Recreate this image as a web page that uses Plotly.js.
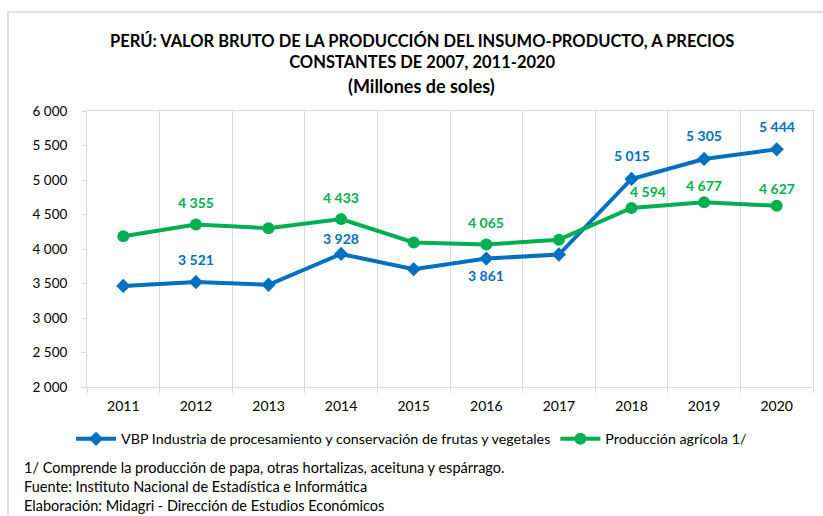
<!DOCTYPE html>
<html>
<head>
<meta charset="utf-8">
<script src="https://cdn.plot.ly/plotly-3.0.1.min.js"></script>
<style>html,body{margin:0;padding:0;background:#fff;}#chart{width:823px;height:516px;}</style>
</head>
<body>
<div id="chart"></div>
<script>
const years = ['2011','2012','2013','2014','2015','2016','2017','2018','2019','2020'];
const vbpIndustria = [3465, 3521, 3482, 3928, 3708, 3861, 3920, 5015, 5305, 5444];
const produccionAgricola = [4185, 4355, 4302, 4433, 4095, 4065, 4135, 4594, 4677, 4627];
const vbpLabeled = [false, true, false, true, false, true, false, true, true, true];
const agrLabeled = [false, true, false, true, false, true, false, true, true, true];
const yTicks = [2000, 2500, 3000, 3500, 4000, 4500, 5000, 5500, 6000];
const seriesNames = ['VBP Industria de procesamiento y conservación de frutas y vegetales', 'Producción agrícola 1/'];
const notes = ['1/ Comprende la producción de papa, otras hortalizas, aceituna y espárrago.',
  'Fuente: Instituto Nacional de Estadística e Informática',
  'Elaboración: Midagri - Dirección de Estudios Económicos'];

const BLUE = '#0070C0', GREEN = '#00B050';
const FONT = 'Lato, "Open Sans", sans-serif';
function fmt(v){ return String(v).replace(/\B(?=(\d{3})+(?!\d))/g, ' '); }

const traces = [
  {x: years, y: vbpIndustria, name: seriesNames[0], type: 'scatter', mode: 'lines+markers',
   line: {color: BLUE, width: 4}, marker: {symbol: 'diamond', size: 11, color: BLUE}},
  {x: years, y: produccionAgricola, name: seriesNames[1], type: 'scatter', mode: 'lines+markers',
   line: {color: GREEN, width: 4}, marker: {symbol: 'circle', size: 12, color: GREEN}}
];

// label offsets (pixels)
const blueShift = {'2014': [0, 15], '2016': [0, -17]};
const greenShift = {'2018': [16, 17], '2019': [0, 17], '2020': [0, 17]};
const annotations = [];
years.forEach((yr, i) => {
  if (vbpLabeled[i]) {
    const s = blueShift[yr] || [0, 23];
    annotations.push({x: i, y: vbpIndustria[i], xref: 'x', yref: 'y', text: fmt(vbpIndustria[i]),
      showarrow: false, xshift: s[0], yshift: s[1], font: {family: FONT, size: 14, color: BLUE, weight: 'bold'}});
  }
  if (agrLabeled[i]) {
    const s = greenShift[yr] || [0, 22];
    annotations.push({x: i, y: produccionAgricola[i], xref: 'x', yref: 'y', text: fmt(produccionAgricola[i]),
      showarrow: false, xshift: s[0], yshift: s[1], font: {family: FONT, size: 14, color: GREEN, weight: 'bold'}});
  }
});
const noteY = [-0.293, -0.362, -0.428];
notes.forEach((t, i) => annotations.push({x: -0.0895, y: noteY[i], xref: 'paper', yref: 'paper',
  xanchor: 'left', yanchor: 'middle', showarrow: false, text: t, font: {family: FONT, size: 14.5, color: '#000'}}));
annotations.push({x: 0.461, y: 1.0 + (111 - 86) / 276, xref: 'paper', yref: 'paper', xanchor: 'center', yanchor: 'middle',
  showarrow: false, text: '<b>(Millones de soles)</b>', font: {family: FONT, size: 18, color: '#000'}});

const layout = {
  width: 823, height: 516,
  margin: {l: 87, r: 10, t: 111, b: 129},
  paper_bgcolor: '#fff', plot_bgcolor: '#fff',
  separators: ', ',
  font: {family: FONT, size: 13, color: '#000'},
  title: {text: '<b>PERÚ: VALOR BRUTO DE LA PRODUCCIÓN DEL INSUMO-PRODUCTO, A PRECIOS<br>CONSTANTES DE 2007, 2011-2020</b>',
    font: {family: FONT, size: 16.5, color: '#000'}, x: 0.513, xanchor: 'center', y: 1 - 47 / 516, yanchor: 'middle', yref: 'container'},
  xaxis: {type: 'category', tickson: 'boundaries', showgrid: true, gridcolor: '#d9d9d9', gridwidth: 1,
    range: [-0.5, 9.5],
    showline: true, linecolor: '#d9d9d9', linewidth: 1, mirror: true,
    ticks: 'outside', ticklen: 5, tickcolor: '#d9d9d9', ticklabelstandoff: 6,
    tickfont: {family: FONT, size: 14, color: '#000'}},
  yaxis: {range: [2000, 6000], tickvals: yTicks, tickformat: ',d', showgrid: false, zeroline: false,
    showline: true, linecolor: '#d9d9d9', linewidth: 1, mirror: true,
    ticks: 'outside', ticklen: 5, tickcolor: '#d9d9d9', ticklabelstandoff: 11,
    tickfont: {family: FONT, size: 13.5, color: '#000'}},
  legend: {orientation: 'h', x: -0.022, xanchor: 'left', y: (387 - 439) / 276, yanchor: 'middle',
    font: {family: FONT, size: 14.3, color: '#000'}, itemwidth: 40, tracegroupgap: 0},
  showlegend: true,
  annotations: annotations,
  shapes: [{type: 'rect', xref: 'paper', yref: 'paper', x0: -0.1088, x1: 1.1, y0: -0.6, y1: 1.3587,
    line: {color: '#d9d9d9', width: 1.5}, fillcolor: 'rgba(0,0,0,0)', layer: 'below'}]
};
Plotly.newPlot('chart', traces, layout, {displayModeBar: false, staticPlot: true});
</script>
</body>
</html>
